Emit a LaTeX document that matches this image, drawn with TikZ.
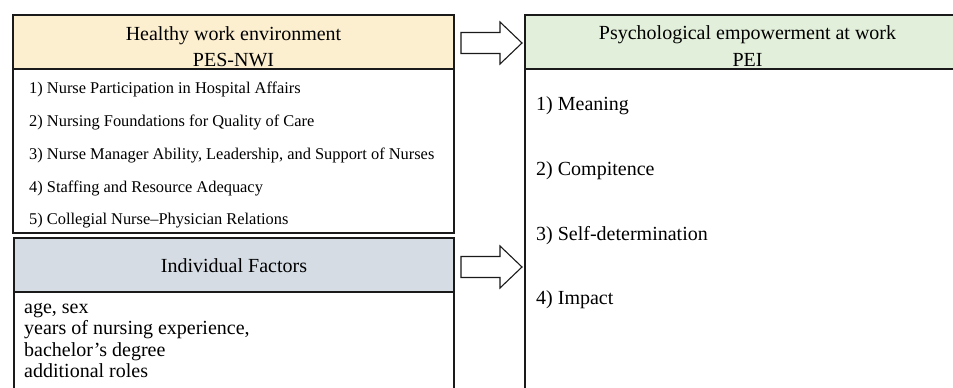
\documentclass[tikz,border=0pt]{standalone}
\usepackage{fontspec}
\setmainfont{Liberation Serif}
\definecolor{envfill}{HTML}{FCEFD0}
\definecolor{indfill}{HTML}{D6DCE4}
\definecolor{peifill}{HTML}{E2EFDA}
\definecolor{frame}{HTML}{1A1A1A}
\begin{document}
\begin{tikzpicture}[x=1pt,y=-1pt,
  box/.style={draw=frame, line width=1.6pt, inner sep=0pt, outer sep=0pt, anchor=north west},
  headtext/.style={inner sep=0pt, anchor=base, font=\fontsize{20}{22}\selectfont},
  smallitem/.style={inner sep=0pt, anchor=base west, font=\fontsize{16.4}{18}\selectfont},
  item/.style={inner sep=0pt, anchor=base west, font=\fontsize{20}{22}\selectfont},
  blockarrow/.style={draw=frame, line width=1.1pt, fill=white, line join=miter}]
\useasboundingbox (0,0) rectangle (953,388);
\clip (0,0) rectangle (953,388);

% Healthy work environment (PES-NWI)
\node[box, fill=envfill, minimum width=441pt, minimum height=54pt] (envhead) at (13,15) {};
\node[box, minimum width=441pt, minimum height=164pt] (envbody) at (envhead.south west) {};
\node[headtext] (envt1) at (233.5,40.5) {Healthy work environment};
\node[headtext] (envt2) at (233.5,66) {PES-NWI};
\node[smallitem] (env1) at (29,93) {1) Nurse Participation in Hospital Affairs};
\node[smallitem] (env2) at (29,126) {2) Nursing Foundations for Quality of Care};
\node[smallitem] (env3) at (29,159) {3) Nurse Manager Ability, Leadership, and Support of Nurses};
\node[smallitem] (env4) at (29,192) {4) Staffing and Resource Adequacy};
\node[smallitem] (env5) at (29,224) {5) Collegial Nurse–Physician Relations};

% Individual factors
\node[box, fill=indfill, minimum width=440pt, minimum height=54pt] (indhead) at (14,238) {};
\node[box, minimum width=440pt, minimum height=120pt] (indbody) at (indhead.south west) {};
\node[headtext] (indt) at (234,272) {Individual Factors};
\node[item] (ind1) at (24,313) {age, sex};
\node[item] (ind2) at (24,334.5) {years of nursing experience,};
\node[item] (ind3) at (24,356) {bachelor’s degree};
\node[item] (ind4) at (24,377.5) {additional roles};

% Psychological empowerment at work (PEI)
\node[box, fill=peifill, minimum width=445pt, minimum height=54pt] (peihead) at (525,15) {};
\node[box, minimum width=445pt, minimum height=340pt] (peibody) at (peihead.south west) {};
\node[headtext] (peit1) at (747.5,39) {Psychological empowerment at work};
\node[headtext] (peit2) at (747.5,66) {PEI};
\node[item] (pei1) at (536,110) {1) Meaning};
\node[item] (pei2) at (536,175) {2) Compitence};
\node[item] (pei3) at (536,240) {3) Self-determination};
\node[item] (pei4) at (536,304) {4) Impact};

% Block arrows into the PEI box
\coordinate (tipA) at (peihead.west |- 0,43);
\coordinate (tipB) at (peihead.west |- 0,267);
\draw[blockarrow] (461,32.5) -- (500,32.5) -- (500,22) -- ([xshift=-3pt]tipA) -- (500,64) -- (500,53.5) -- (461,53.5) -- cycle;
\draw[blockarrow] (461,256.5) -- (500,256.5) -- (500,246) -- ([xshift=-3pt]tipB) -- (500,288) -- (500,277.5) -- (461,277.5) -- cycle;
\end{tikzpicture}
\end{document}
